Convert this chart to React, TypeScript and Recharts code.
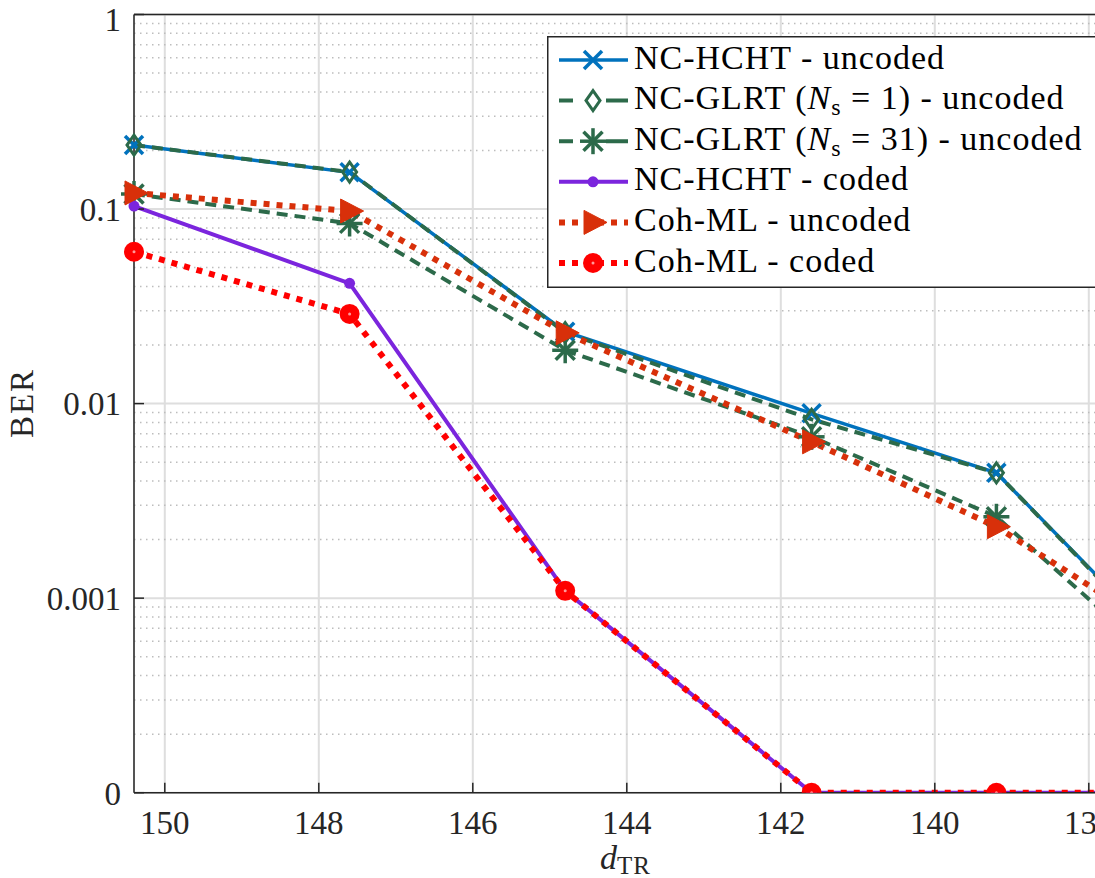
import React from 'react';
import { LineChart, Line, XAxis, YAxis, CartesianGrid, Legend, ReferenceLine } from 'recharts';

// Transmitter-receiver distance d_TR of each simulated point
const distances = [150.4, 147.6, 144.8, 141.6, 139.2, 136.8];

// Bit error rate of each scheme (0 = no bit errors observed)
const hchtUncoded = [0.2133, 0.1544, 0.0234, 0.00891, 0.00441, 0.00047];
const glrt1Uncoded = [0.2133, 0.155, 0.0232, 0.0083, 0.00441, 0.00046];
const glrt31Uncoded = [0.1195, 0.0844, 0.0188, 0.00675, 0.00262, 0.000374];
const hchtCoded = [0.1036, 0.0415, 0.00109, 0, 0, 0];
const cohUncoded = [0.121, 0.0977, 0.0231, 0.00636, 0.00233, 0.00058];
const cohCoded = [0.0603, 0.0289, 0.00109, 0, 0, 0];

const seriesNames = [
  'NC-HCHT - uncoded',
  'NC-GLRT (N_s = 1) - uncoded',
  'NC-GLRT (N_s = 31) - uncoded',
  'NC-HCHT - coded',
  'Coh-ML - uncoded',
  'Coh-ML - coded',
];

const xTicks = [150, 148, 146, 144, 142, 140, 138];
const yTicks = [1e-4, 1e-3, 1e-2, 1e-1, 1];
const yTickLabels = ['0', '0.001', '0.01', '0.1', '1'];
const yDecades = [1e-4, 1e-3, 1e-2, 1e-1];
const minorMultipliers = [2, 3, 4, 5, 6, 7, 8, 9];

// Zero BER is shown on the bottom edge of the log axis (labelled "0")
const BER_FLOOR = 1e-4;
const shown = (v: number) => (v > 0 ? v : BER_FLOOR);

const rows = distances.map((d, i) => ({
  d,
  hchtU: shown(hchtUncoded[i]),
  glrt1U: shown(glrt1Uncoded[i]),
  glrt31U: shown(glrt31Uncoded[i]),
  hchtC: shown(hchtCoded[i]),
  cohU: shown(cohUncoded[i]),
  cohC: shown(cohCoded[i]),
}));

const minorTicks = yDecades.flatMap((dec) => minorMultipliers.map((m) => m * dec));

const BLUE = '#0072BD';
const GREEN = '#2C6A4A';
const PURPLE = '#7B25DD';
const ORANGE_RED = '#D8300A';
const RED = '#FF0000';
const INK = '#262626';
const FONT = 'Liberation Serif, Times New Roman, serif';

type M = { cx: number; cy: number };

const XMark = ({ cx, cy }: M) => (
  <g stroke={BLUE} strokeWidth={3.5}>
    <line x1={cx - 9} y1={cy - 9} x2={cx + 9} y2={cy + 9} />
    <line x1={cx - 9} y1={cy + 9} x2={cx + 9} y2={cy - 9} />
  </g>
);

const DiamondMark = ({ cx, cy }: M) => (
  <path
    d={`M${cx},${cy - 10} L${cx + 7},${cy} L${cx},${cy + 10} L${cx - 7},${cy} Z`}
    fill="none"
    stroke={GREEN}
    strokeWidth={3}
  />
);

const AsteriskMark = ({ cx, cy }: M) => (
  <g stroke={GREEN} strokeWidth={3.5}>
    <line x1={cx - 13} y1={cy} x2={cx + 13} y2={cy} />
    <line x1={cx} y1={cy - 13} x2={cx} y2={cy + 13} />
    <line x1={cx - 9.5} y1={cy - 9.5} x2={cx + 9.5} y2={cy + 9.5} />
    <line x1={cx - 9.5} y1={cy + 9.5} x2={cx + 9.5} y2={cy - 9.5} />
  </g>
);

const DotMark = ({ cx, cy }: M) => <circle cx={cx} cy={cy} r={5.5} fill={PURPLE} />;

const TriangleMark = ({ cx, cy }: M) => (
  <polygon
    points={`${cx - 9},${cy - 12} ${cx - 9},${cy + 12} ${cx + 14},${cy}`}
    fill={ORANGE_RED}
    stroke={ORANGE_RED}
    strokeWidth={1}
  />
);

const CircleMark = ({ cx, cy }: M) => (
  <g>
    <circle cx={cx} cy={cy} r={10} fill={RED} />
    <circle cx={cx} cy={cy} r={1.5} fill="#FF9A9A" />
  </g>
);

const dotOf = (Mark: (p: M) => React.ReactElement, tag: string) => (p: any) =>
  p.cx == null || p.cy == null ? (
    <g key={`${tag}-${p.index}`} />
  ) : (
    <g key={`${tag}-${p.index}`}>
      <Mark cx={p.cx} cy={p.cy} />
    </g>
  );

const legendRows = [
  { color: BLUE, width: 3.5, dash: undefined, Mark: XMark },
  { color: GREEN, width: 4, dash: '14 33 22', Mark: DiamondMark },
  { color: GREEN, width: 4, dash: '14 33 22', Mark: AsteriskMark },
  { color: PURPLE, width: 4, dash: undefined, Mark: DotMark },
  { color: ORANGE_RED, width: 6, dash: '6 7', Mark: TriangleMark },
  { color: RED, width: 6, dash: '6 7', Mark: CircleMark },
];

const renderName = (name: string) => {
  if (!name.includes('N_s')) return name;
  const [before, after] = name.split('N_s');
  return (
    <>
      {before}
      <tspan fontStyle="italic">N</tspan>
      <tspan fontSize={24} dy={6}>s</tspan>
      <tspan dy={-6}>{after}</tspan>
    </>
  );
};

const LEG_W = 560;
const LEG_H = 252;

const LegendBox = () => (
  <svg width={LEG_W} height={LEG_H} style={{ display: 'block' }}>
    <rect x={0.75} y={0.75} width={LEG_W - 1.5} height={LEG_H - 1.5} fill="#fff" stroke={INK} strokeWidth={1.5} />
    {legendRows.map((row, i) => {
      const y = 24 + i * 40.6;
      const Mark = row.Mark;
      return (
        <g key={i}>
          <line x1={12} x2={81} y1={y} y2={y} stroke={row.color} strokeWidth={row.width} strokeDasharray={row.dash} />
          <Mark cx={46} cy={y} />
          <text
            x={87}
            y={y + 8.5}
            fontSize={34}
            letterSpacing={1}
            fill="#000"
            style={{ fontFamily: FONT }}
          >
            {renderName(seriesNames[i])}
          </text>
        </g>
      );
    })}
  </svg>
);

const YTick = (props: any) => {
  const { x, y, payload } = props;
  const i = yTicks.indexOf(payload.value);
  const label = i >= 0 ? yTickLabels[i] : String(payload.value);
  const shift = payload.value === 1 ? 5 : 0;
  return (
    <text x={x + 1} y={y + shift} dy="0.36em" textAnchor="end" fontSize={33} fill={INK} style={{ fontFamily: FONT }}>
      {label}
    </text>
  );
};

const XTick = (props: any) => {
  const { x, y, payload } = props;
  return (
    <text x={x} y={y} dy="0.71em" textAnchor="middle" fontSize={33} fill={INK} style={{ fontFamily: FONT }}>
      {payload.value}
    </text>
  );
};

const axisStroke = { stroke: INK, strokeWidth: 1.5 };

export default function App() {
  return (
    <div
      style={{
        position: 'fixed',
        left: 0,
        top: 0,
        width: 1095,
        height: 878,
        overflow: 'hidden',
        background: '#fff',
      }}
    >
      <LineChart width={1192} height={878} data={rows} margin={{ top: 13.5, right: 10.8, bottom: 84.3, left: 74 }}>
        <CartesianGrid stroke="#DEDEDE" strokeWidth={2} />
        {minorTicks.map((v) => (
          <ReferenceLine
            key={`minor-${v}`}
            y={v}
            stroke="#BDBDBD"
            strokeWidth={1.5}
            strokeDasharray="1.5 4.5"
          />
        ))}
        <XAxis
          dataKey="d"
          type="number"
          domain={[136.8, 150.4]}
          reversed
          ticks={xTicks}
          interval={0}
          height={1}
          tickSize={-10}
          tickMargin={28.3}
          axisLine={axisStroke}
          tickLine={axisStroke}
          tick={<XTick />}
        />
        <XAxis
          xAxisId="top"
          orientation="top"
          dataKey="d"
          type="number"
          domain={[136.8, 150.4]}
          reversed
          ticks={xTicks}
          interval={0}
          height={1}
          tickSize={-10}
          axisLine={axisStroke}
          tickLine={axisStroke}
          tick={false}
        />
        <YAxis
          type="number"
          scale="log"
          domain={[BER_FLOOR, 1]}
          allowDataOverflow
          ticks={yTicks}
          interval={0}
          width={60}
          tickSize={-10}
          tickMargin={24}
          axisLine={axisStroke}
          tickLine={axisStroke}
          tick={<YTick />}
        />
        <YAxis
          yAxisId="minor"
          type="number"
          scale="log"
          domain={[BER_FLOOR, 1]}
          allowDataOverflow
          ticks={minorTicks}
          interval={0}
          width={1}
          mirror
          tickSize={6}
          axisLine={false}
          tickLine={axisStroke}
          tick={false}
        />
        <Line
          dataKey="hchtU"
          name={seriesNames[0]}
          stroke={BLUE}
          strokeWidth={3.5}
          dot={dotOf(XMark, 'hu')}
          activeDot={false}
          isAnimationActive={false}
        />
        <Line
          dataKey="glrt1U"
          name={seriesNames[1]}
          stroke={GREEN}
          strokeWidth={4}
          strokeDasharray="11 7"
          dot={dotOf(DiamondMark, 'g1')}
          activeDot={false}
          isAnimationActive={false}
        />
        <Line
          dataKey="glrt31U"
          name={seriesNames[2]}
          stroke={GREEN}
          strokeWidth={4}
          strokeDasharray="11 7"
          dot={dotOf(AsteriskMark, 'g31')}
          activeDot={false}
          isAnimationActive={false}
        />
        <Line
          dataKey="hchtC"
          name={seriesNames[3]}
          stroke={PURPLE}
          strokeWidth={4}
          dot={dotOf(DotMark, 'hc')}
          activeDot={false}
          isAnimationActive={false}
        />
        <Line
          dataKey="cohU"
          name={seriesNames[4]}
          stroke={ORANGE_RED}
          strokeWidth={6}
          strokeDasharray="6 7"
          dot={dotOf(TriangleMark, 'cu')}
          activeDot={false}
          isAnimationActive={false}
        />
        <Line
          dataKey="cohC"
          name={seriesNames[5]}
          stroke={RED}
          strokeWidth={6}
          strokeDasharray="6 7"
          dot={dotOf(CircleMark, 'cc')}
          activeDot={false}
          isAnimationActive={false}
        />
        <Legend
          layout="vertical"
          align="center"
          verticalAlign="middle"
          content={() => <LegendBox />}
          wrapperStyle={{ left: 547, top: 36, width: LEG_W, height: LEG_H }}
        />
      </LineChart>
      <svg
        width={1095}
        height={878}
        style={{ position: 'absolute', left: 0, top: 0, pointerEvents: 'none' }}
      >
        <text
          transform="translate(33,403) rotate(-90)"
          textAnchor="middle"
          fontSize={33}
          letterSpacing={2}
          fill={INK}
          style={{ fontFamily: FONT }}
        >
          BER
        </text>
        <text x={600} y={869} fontSize={34} fill={INK} style={{ fontFamily: FONT }}>
          <tspan fontStyle="italic">d</tspan>
          <tspan fontSize={25} dy={5} letterSpacing={1}>TR</tspan>
        </text>
      </svg>
    </div>
  );
}
